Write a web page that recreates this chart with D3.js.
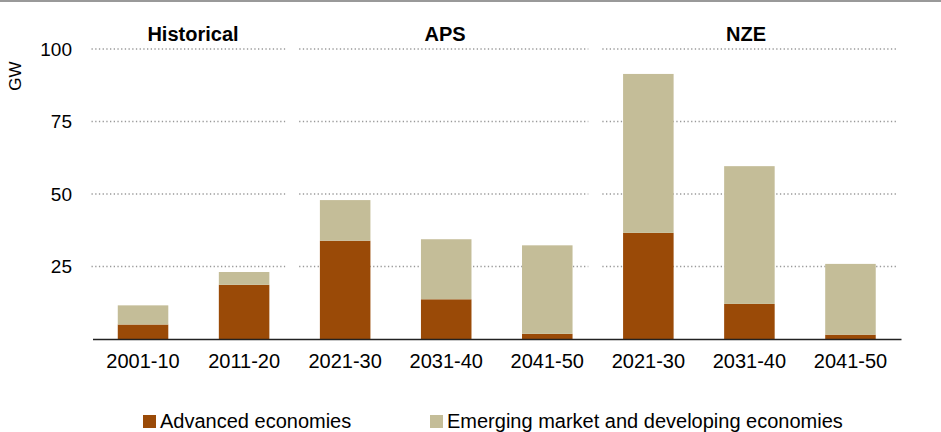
<!DOCTYPE html>
<html>
<head>
<meta charset="utf-8">
<script src="https://cdn.jsdelivr.net/npm/d3@7"></script>
<style>
  body { margin: 0; background: #fff; }
  text { font-family: "Liberation Sans", Arial, sans-serif; }
</style>
</head>
<body>
<script>
const wSvg = 941, hSvg = 432;

// data
const periods = ["2001-10", "2011-20", "2021-30", "2031-40", "2041-50", "2021-30", "2031-40", "2041-50"];
const scenarios = ["Historical", "Historical", "APS", "APS", "APS", "NZE", "NZE", "NZE"];
const groupNames = ["Historical", "APS", "NZE"];
const advanced = [5.0, 18.7, 33.9, 13.7, 1.8, 36.6, 12.1, 1.5];
const emerging = [6.6, 4.4, 14.0, 20.7, 30.5, 54.8, 47.5, 24.4];
const seriesNames = ["Advanced economies", "Emerging market and developing economies"];
const colors = ["#9a4a07", "#c4bd98"];
const yTicks = [25, 50, 75, 100];

const svg = d3.select("body").append("svg")
    .attr("width", wSvg)
    .attr("height", hSvg);

// top rule
svg.append("line")
    .attr("x1", 0).attr("x2", wSvg)
    .attr("y1", 1).attr("y2", 1)
    .attr("stroke", "#999").attr("stroke-width", 2);

let rows = periods.map((p, i) => ({ key: i, period: p, scen: scenarios[i], adv: advanced[i], emd: emerging[i] }));

let x = d3.scaleBand()
    .domain(rows.map(d => d.key))
    .range([92.5, 901])
    .paddingInner(0.5)
    .paddingOuter(0.25);

let y = d3.scaleLinear()
    .domain([0, 100])
    .range([339, 49]);

// gridlines per scenario block
let blocks = groupNames.map((g, gi) => {
    let ks = rows.filter(d => d.scen === g).map(d => d.key);
    let x0 = x(ks[0]) - x.step() * x.paddingInner() / 2;
    let x1 = x(ks[ks.length - 1]) + x.bandwidth() + x.step() * x.paddingInner() / 2;
    return { name: g, x0: x0 + (gi > 0 ? 4.5 : -1), x1: x1 - (gi < 2 ? 9.5 : 3) };
});

let gGrid = svg.append("g");
blocks.forEach(b => {
    gGrid.selectAll(null)
        .data(yTicks)
        .enter()
        .append("line")
        .attr("x1", b.x0).attr("x2", b.x1)
        .attr("y1", d => y(d)).attr("y2", d => y(d))
        .attr("stroke", "#999")
        .attr("stroke-width", 1.3)
        .attr("stroke-dasharray", "1.3,2.4");
});

// y axis labels
let yAxis = d3.axisLeft(y).tickValues(yTicks).tickSize(0).tickPadding(0);
let gY = svg.append("g")
    .attr("transform", "translate(72,0)")
    .call(yAxis);
gY.select(".domain").remove();
gY.selectAll("text")
    .attr("font-size", 19)
    .attr("fill", "#000")
    .style("font-family", "Liberation Sans, Arial, sans-serif");

svg.append("text")
    .attr("transform", "translate(21,76) rotate(-90)")
    .attr("text-anchor", "middle")
    .attr("font-size", 17)
    .text("GW");

// stacked bars
let stack = d3.stack().keys(["adv", "emd"]);
let stacked = stack(rows);

svg.append("g")
    .selectAll("g")
    .data(stacked)
    .enter()
    .append("g")
    .attr("fill", (d, i) => colors[i])
    .selectAll("rect")
    .data(d => d)
    .enter()
    .append("rect")
    .attr("x", d => x(d.data.key))
    .attr("width", x.bandwidth())
    .attr("y", d => y(d[1]))
    .attr("height", d => y(d[0]) - y(d[1]));

// x axis
let xAxis = d3.axisBottom(x).tickSize(0).tickFormat(k => periods[k]);
let gX = svg.append("g")
    .attr("transform", `translate(0, ${y(0)})`)
    .call(xAxis);
gX.select(".domain")
    .attr("stroke", "#222")
    .attr("stroke-width", 1.5);
gX.selectAll("text")
    .attr("y", 29)
    .attr("dy", null)
    .attr("font-size", 20)
    .attr("fill", "#000")
    .style("font-family", "Liberation Sans, Arial, sans-serif");

// scenario headers
svg.selectAll(".hdr")
    .data(blocks)
    .enter()
    .append("text")
    .attr("class", "hdr")
    .attr("x", (d, i) => [193, 445, 746][i])
    .attr("y", 41)
    .attr("text-anchor", "middle")
    .attr("font-size", 20)
    .attr("font-weight", "bold")
    .text(d => d.name);

// legend
let legX = [143, 430];
let gLeg = svg.append("g");
seriesNames.forEach((s, i) => {
    gLeg.append("rect")
        .attr("x", legX[i]).attr("y", 415)
        .attr("width", 13).attr("height", 13)
        .attr("fill", colors[i]);
    gLeg.append("text")
        .attr("x", legX[i] + 17).attr("y", 428)
        .attr("font-size", 20)
        .text(s);
});
</script>
</body>
</html>
